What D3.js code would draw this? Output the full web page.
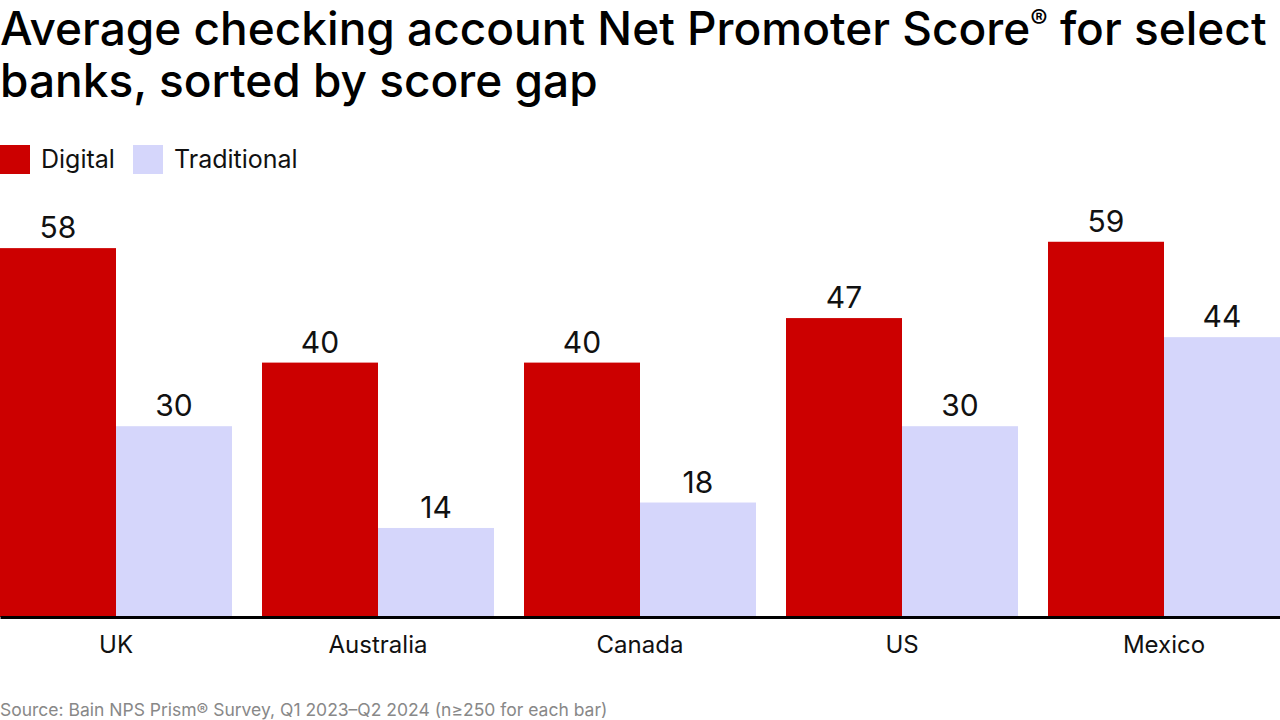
<!DOCTYPE html>
<html>
<head>
<meta charset="utf-8">
<script src="https://cdn.jsdelivr.net/npm/d3@7"></script>
<style>
  body { margin: 0; background: #fff; }
  svg { display: block; font-family: Inter, Roboto, sans-serif; }
</style>
</head>
<body>
<svg id="chart" width="1280" height="720"></svg>
<script>
// data
var countries = ["UK", "Australia", "Canada", "US", "Mexico"];
var seriesNames = ["Digital", "Traditional"];
var digital = [58, 40, 40, 47, 59];
var traditional = [30, 14, 18, 30, 44];
var colors = ["#cc0000", "#d5d6fb"];

var svg = d3.select("#chart");
var width = 1280;
var baseY = 617;

// title, the ® is set small and raised
var title = svg.append("text")
    .attr("font-size", 46)
    .attr("font-weight", 500)
    .attr("fill", "#000");
var l1 = title.append("tspan").attr("x", 0).attr("y", 45);
l1.append("tspan").text("Average checking account Net Promoter Score");
l1.append("tspan").attr("font-size", 26).attr("dy", -17).text("\u00AE");
l1.append("tspan").attr("dy", 17).text(" for select");
title.append("tspan").attr("x", 0).attr("y", 97)
    .text("banks, sorted by score gap");

// legend
var legend = svg.append("g").attr("transform", "translate(0,145)");
var legX = [0, 133];
seriesNames.forEach(function (name, i) {
    legend.append("rect")
        .attr("x", legX[i]).attr("y", 0)
        .attr("width", 30).attr("height", 29)
        .attr("fill", colors[i]);
    legend.append("text")
        .attr("x", legX[i] + 41).attr("y", 23)
        .attr("font-size", 25)
        .attr("fill", "#111")
        .text(name);
});

// scales
var x0 = d3.scaleBand()
    .domain(countries)
    .range([0, width])
    .paddingInner(30 / 262)
    .paddingOuter(0);
var x1 = d3.scaleBand()
    .domain(seriesNames)
    .range([0, x0.bandwidth()]);
var y = d3.scaleLinear()
    .domain([0, 60])
    .range([baseY, baseY - 381.6]);

var rows = countries.map(function (c, i) {
    return { country: c, values: [digital[i], traditional[i]] };
});

var groups = svg.append("g").selectAll("g")
    .data(rows)
    .join("g")
    .attr("transform", function (d) { return "translate(" + x0(d.country) + ",0)"; });

groups.selectAll("rect")
    .data(function (d) { return d.values.map(function (v, i) { return { key: seriesNames[i], value: v, i: i }; }); })
    .join("rect")
    .attr("x", function (d) { return x1(d.key); })
    .attr("y", function (d) { return y(d.value); })
    .attr("width", x1.bandwidth())
    .attr("height", function (d) { return baseY - y(d.value); })
    .attr("fill", function (d) { return colors[d.i]; });

groups.selectAll("text.val")
    .data(function (d) { return d.values.map(function (v, i) { return { key: seriesNames[i], value: v }; }); })
    .join("text")
    .attr("class", "val")
    .attr("x", function (d) { return x1(d.key) + x1.bandwidth() / 2; })
    .attr("y", function (d) { return y(d.value) - 10; })
    .attr("text-anchor", "middle")
    .attr("font-size", 30)
    .attr("fill", "#111")
    .text(function (d) { return d.value; });

// x axis
var xAxis = svg.append("g")
    .attr("transform", "translate(0," + baseY + ")")
    .call(d3.axisBottom(x0).tickSize(0).tickPadding(19));
xAxis.select(".domain").attr("stroke", "#000").attr("stroke-width", 3);
xAxis.selectAll("text")
    .attr("font-size", 24)
    .attr("font-family", "Inter, Roboto, sans-serif")
    .attr("fill", "#111");

// source note
svg.append("text")
    .attr("x", 0)
    .attr("y", 716)
    .attr("font-size", 17.5)
    .attr("fill", "#888")
    .text("Source: Bain NPS Prism\u00AE Survey, Q1 2023\u2013Q2 2024 (n\u2265250 for each bar)");
</script>
</body>
</html>
